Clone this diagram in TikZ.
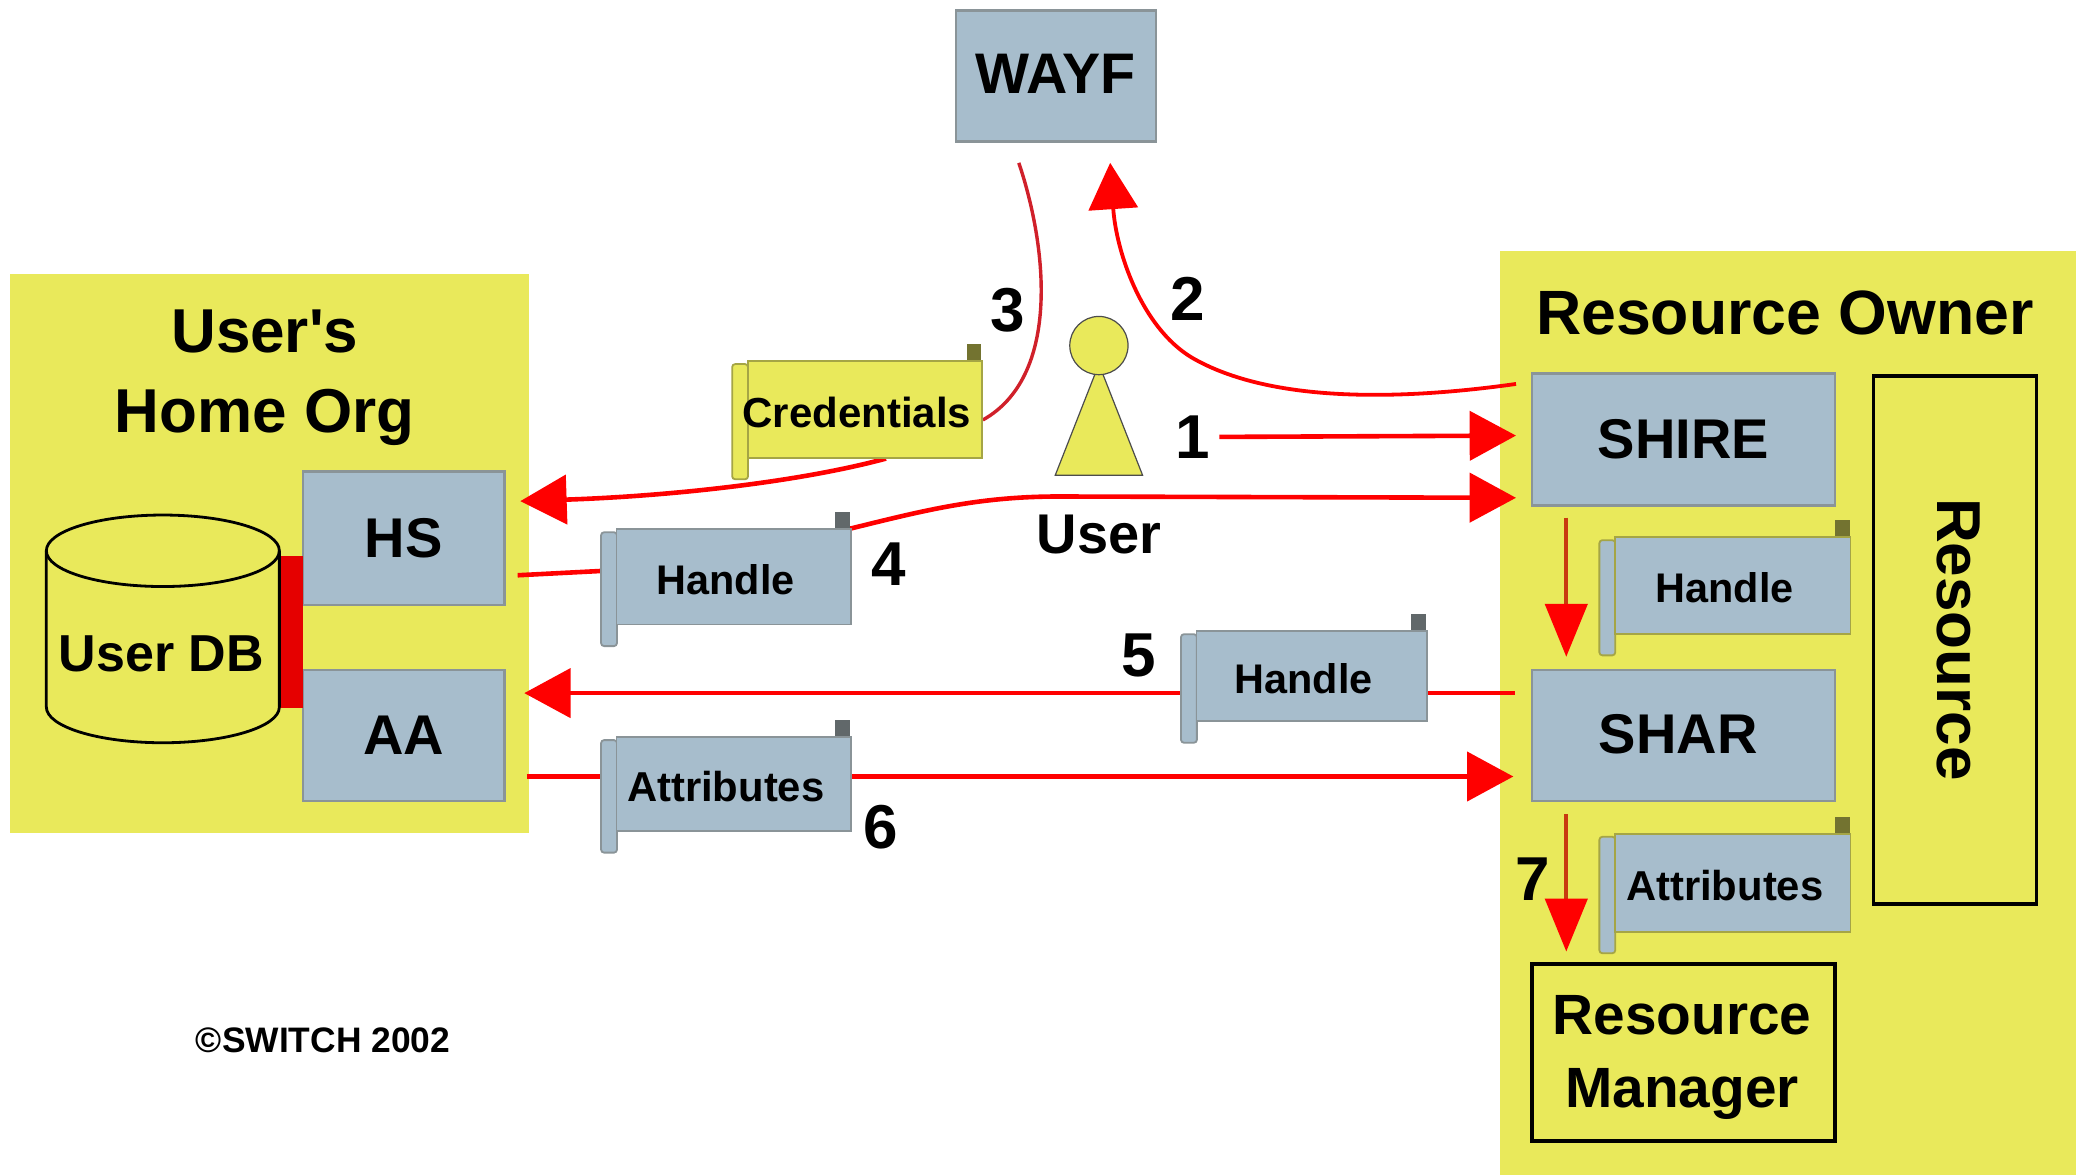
\documentclass[tikz,border=0pt]{standalone}
\usepackage{fontspec}
\setmainfont{Liberation Sans}
\newfontfamily\straightf{Liberation Sans}
\usetikzlibrary{arrows.meta}
\def\u{0.662pt}
\pgfdeclarelayer{back}
\pgfdeclarelayer{conn}
\pgfsetlayers{back,conn,main}
\definecolor{panelY}{HTML}{E9E95B}
\definecolor{boxB}{HTML}{A7BDCC}
\definecolor{edgeB}{HTML}{8A9498}
\definecolor{edgeO}{HTML}{A5A545}
\definecolor{lineD}{HTML}{D0202A}
\definecolor{lineV}{HTML}{C83A10}
\tikzset{
  panel/.style={fill=panelY,draw=none},
  bluebox/.style={draw=edgeB,line width=1.3pt,fill=boxB,inner sep=0pt,font=\bfseries\fontsize{28}{28}\selectfont},
  yelbox/.style={draw=black,line width=1.8pt,fill=panelY,inner sep=0pt},
  txt/.style={inner sep=0pt,font=\straightf\bfseries\fontsize{31}{40}\selectfont,align=center},
  num/.style={inner sep=0pt,font=\bfseries\fontsize{31}{31}\selectfont},
  stxt/.style={inner sep=0pt,font=\bfseries\fontsize{20.7}{24}\selectfont},
  atxt/.style={inner sep=0pt,font=\bfseries\fontsize{20.9}{24}\selectfont},
  ctxt/.style={inner sep=0pt,font=\bfseries\fontsize{21}{24}\selectfont},
  conn/.style={draw=red,line width=2.3pt},
  head/.style={-{Triangle[length=35*\u,width=37*\u,fill=red,color=red]}},
  vhead/.style={-{Triangle[length=40*\u,width=32*\u,fill=red,color=red]}},
}
% name, x0, y0, x1, y1, fill, edge, text style, text
\newcommand\scrollbox[9]{%
  \path[fill=#6,draw=#7,line width=0.9pt,rounded corners=1.5pt]
     (#2-11,#3+3) rectangle (#2+1,#5+17);
  \node[fill=#6,draw=#7,line width=0.9pt,inner sep=0pt,anchor=north west,
        minimum width={(#4-(#2))*\u},minimum height={(#5-(#3))*\u}] (#1) at (#2,#3) {};
  \path[fill=#7!70!black,draw=none] (#4-11,#3-12) rectangle (#4,#3);
  \node[#8] (#1t) at ([xshift=-6*\u,yshift=-2*\u]#1.center) {#9};
}
\begin{document}
\begin{tikzpicture}[x=0.662pt,y=-0.662pt]
\useasboundingbox (0,0) rectangle (1568,887);
\begin{pgfonlayer}{back}
  \fill[white] (0,0) rectangle (1568,887);
  \node[panel,inner sep=0pt,anchor=north west,minimum width=392*\u,minimum height=422*\u] (home) at (7,207) {};
  \node[panel,inner sep=0pt,anchor=north west,minimum width=435*\u,minimum height=698*\u] (owner) at (1133,189) {};
\end{pgfonlayer}

\node[bluebox,minimum width=151*\u,minimum height=99*\u] (wayf) at (797.5,57.5) {};
\node[inner sep=0pt,font=\bfseries\fontsize{28.6}{28}\selectfont] (wayft) at (797.5,55.5) {WAYF};
\node[txt] (homet) at (200,285) {User's\\[0pt]Home Org};
\node[txt,font=\bfseries\fontsize{31.3}{40}\selectfont] (ownert) at (1348,236) {Resource Owner};

\node[bluebox,minimum width=229*\u,minimum height=100*\u] (shire) at (1271.5,332) {SHIRE};
\node[bluebox,minimum width=229*\u,minimum height=99*\u] (shar) at (1271.5,555.5) {};
\node[inner sep=0pt,font=\bfseries\fontsize{28}{28}\selectfont] (shart) at (1267.5,554.5) {SHAR};
\node[yelbox,minimum width=123*\u,minimum height=399*\u] (resbox) at (1476.5,483.5) {};
\node[inner sep=0pt,rotate=-90,font=\bfseries\fontsize{31}{31}\selectfont] (rest) at (1479,483) {Resource};
\node[yelbox,minimum width=229*\u,minimum height=134*\u] (rm) at (1271.5,795) {};
\node[inner sep=0pt,align=center,font=\bfseries\fontsize{28.4}{36.5}\selectfont] (rmt) at (1270.5,799) {Resource\\[0pt]Manager};

\node[bluebox,minimum width=152*\u,minimum height=101*\u] (hs) at (305,406.5) {HS};
\node[bluebox,minimum width=152*\u,minimum height=99*\u] (aa) at (305,555.5) {AA};
\node[fill=red!90!black,inner sep=0pt,minimum width=18*\u,minimum height=115*\u] (dbbar) at (220,477.5) {};

% database cylinder
\path[fill=panelY,draw=black,line width=1.4pt]
  (35,416) -- (35,534) arc[start angle=180,end angle=0,x radius=88,y radius=27]
  -- (211,416) arc[start angle=0,end angle=-180,x radius=88,y radius=27] -- cycle;
\draw[black,line width=1.4pt] (35,416) arc[start angle=180,end angle=0,x radius=88,y radius=27];
\node[inner sep=0pt,font=\bfseries\fontsize{26}{26}\selectfont] (db) at (122,494) {User DB};

% user figure
\path[fill=panelY,draw=black!70,line width=0.6pt] (830,275) -- (863,359) -- (797,359) -- cycle;
\node[circle,fill=panelY,draw=black!70,line width=0.6pt,inner sep=0pt,minimum size=44*\u] (head) at (830,261) {};
\node[inner sep=0pt,font=\bfseries\fontsize{28}{28}\selectfont] (user) at (830,404) {User};

% scrolls
\scrollbox{cred}{564}{272}{741}{345}{panelY}{edgeO}{ctxt}{Credentials}
\scrollbox{hA}{465}{399}{642}{471}{boxB}{edgeB}{stxt}{Handle}
\scrollbox{hB}{903}{476}{1077}{544}{boxB}{edgeB}{stxt}{Handle}
\scrollbox{aB}{465}{556}{642}{627}{boxB}{edgeB}{atxt}{Attributes}
\scrollbox{hC}{1219}{405}{1397}{478}{boxB}{edgeO}{stxt}{Handle}
\scrollbox{aC}{1219}{629}{1397}{703}{boxB}{edgeO}{atxt}{Attributes}

% numbers
\node[num] (n1) at (901,330) {1};
\node[num] (n2) at (897,226) {2};
\node[num] (n3) at (761,234) {3};
\node[num] (n4) at (671,426) {4};
\node[num] (n5) at (860,495) {5};
\node[num] (n6) at (665,625) {6};
\node[num] (n7) at (1158,664) {7};
\node[inner sep=0pt,font=\bfseries\fontsize{17.7}{18}\selectfont] (copy) at (244,786) {©SWITCH 2002};

\begin{pgfonlayer}{conn}
  % 1
  \draw[conn,head] ([xshift=20*\u]n1.center) -- ([xshift=-11*\u,yshift=3*\u]shire.west);
  % 2
  \draw[conn,head,line width=1.9pt] ([xshift=-11*\u,yshift=42*\u]shire.west)
     .. controls (1060,302) and (960,305) .. (900,270)
     .. controls (862,247) and (843,190) .. ([xshift=41*\u,yshift=-15*\u]wayf.south);
  % 3
  \draw[draw=lineD,line width=1.7pt] ([xshift=-28*\u,yshift=-15*\u]wayf.south)
     .. controls (792,190) and (800,285) .. ([yshift=-8*\u]cred.east);
  \draw[conn,head] ([xshift=16*\u]cred.south)
     .. controls (600,365) and (500,375) .. ([xshift=11*\u,yshift=28*\u]hs.east);
  % 4
  \draw[conn,head] ([xshift=9*\u,yshift=-28*\u]hs.east) -- ([yshift=5*\u]hA.west) -- (hA.north east)
     .. controls (700,385) and (740,375) .. (800,375) -- ([xshift=-11*\u,yshift=-44*\u]shire.west);
  % 5
  \draw[conn,head] ([xshift=-12*\u,yshift=32*\u]shar.west) -- ([xshift=14*\u,yshift=32*\u]aa.east);
  % 6
  \draw[conn,head] ([xshift=16*\u,yshift=-31*\u]aa.east) -- ([xshift=-13*\u,yshift=-31*\u]shar.west);
  % vertical
  \draw[draw=lineV,line width=1.8pt,vhead] ([xshift=-88.5*\u,yshift=-8*\u]shire.south) -- ([xshift=-88.5*\u,yshift=9*\u]shar.north);
  \draw[draw=lineV,line width=1.8pt,vhead] ([xshift=-88.5*\u,yshift=-9*\u]shar.south) -- ([xshift=-88.5*\u,yshift=8*\u]rm.north);
\end{pgfonlayer}
\end{tikzpicture}
\end{document}
